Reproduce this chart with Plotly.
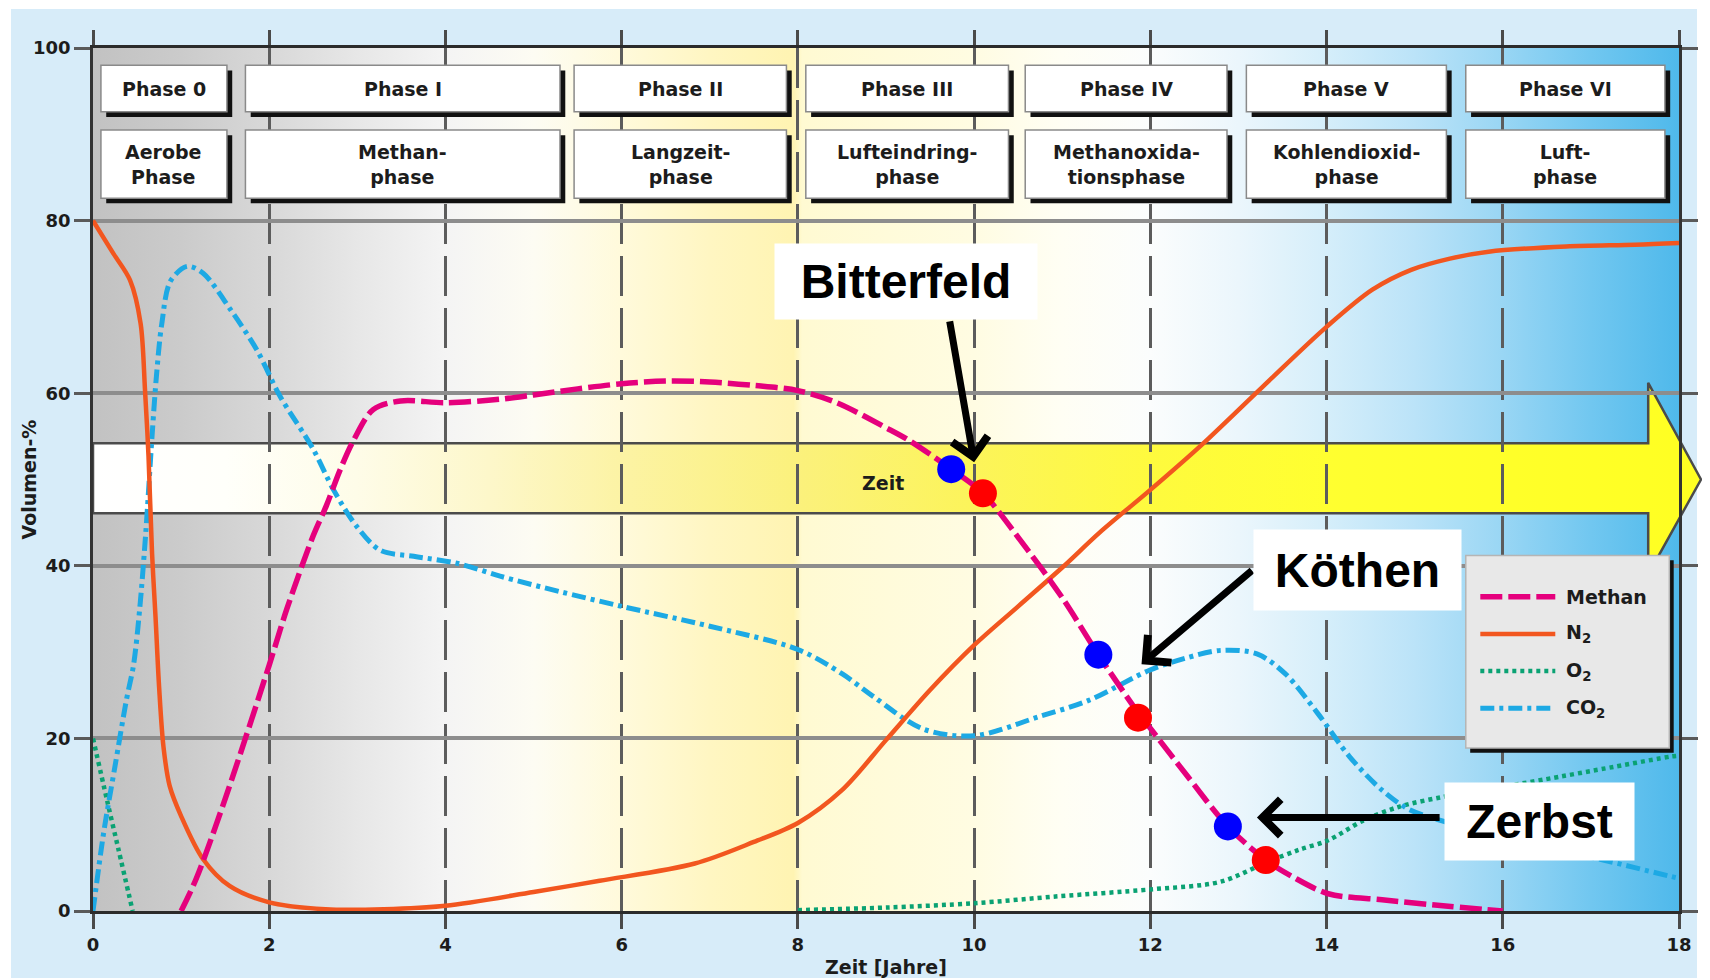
import base64
import plotly.graph_objects as go

# ------------------------------------------------------------
# Daten (Volumen-% über Zeit in Jahren)
# ------------------------------------------------------------
methan_x = [1.0, 1.17, 1.5, 2.0, 2.2, 2.5, 2.65, 2.8, 2.96, 3.18, 3.49, 4.0, 4.62, 5.0,
            5.5, 6.0, 6.5, 7.0, 7.5, 8.0, 8.44, 9.0, 9.25, 9.74, 10.1, 10.5, 11.0, 11.41,
            11.86, 11.99, 12.4, 12.88, 13.31, 13.61, 14.02, 14.63, 15.23, 16.0]
methan_y = [0, 3.7, 13, 28.5, 35, 43.5, 47, 51, 54.6, 58.1, 59.1, 58.9, 59.3, 59.8,
            60.5, 61.1, 61.4, 61.3, 60.9, 60.3, 58.9, 56.0, 54.6, 51.2, 48.4, 43.3, 36.3, 29.7,
            23.0, 21.3, 15.9, 9.8, 5.9, 4.0, 2.0, 1.3, 0.7, 0.0]

n2_x = [0, 0.23, 0.42, 0.54, 0.59, 0.63, 0.67, 0.71, 0.75, 0.8, 0.87, 1.0, 1.25, 1.55,
        2.0, 2.64, 3.3, 4.0, 5.0, 5.75, 6.83, 7.5, 8.0, 8.5, 9.0, 9.5, 10.0, 10.5, 11.0,
        11.43, 12.0, 12.57, 13.28, 13.99, 14.52, 14.96, 15.4, 15.84, 16.72, 17.5, 18.0]
n2_y = [80, 76.2, 73.1, 68.1, 60.4, 52.7, 41.5, 34, 26, 19, 14.5, 11.0, 6.0, 2.9,
        1.0, 0.2, 0.2, 0.6, 2.2, 3.5, 5.5, 8.0, 10.2, 14.0, 19.8, 25.6, 30.8, 35.3, 39.8,
        43.9, 48.8, 53.9, 60.8, 67.6, 72.0, 74.3, 75.6, 76.4, 77.0, 77.2, 77.4]

o2_x = [0, 0.16, 0.29, 0.45, None, 8.0, 9.0, 10.0, 10.95, 12.0, 12.8, 13.33, 13.69,
        14.02, 14.42, 14.83, 15.31, 16.0, 16.45, 17.26, 17.91, 18.0]
o2_y = [20, 12.8, 7.1, 0, None, 0.1, 0.4, 0.9, 1.7, 2.5, 3.4, 5.7, 7.1,
        8.2, 10.5, 12.1, 13.2, 14.4, 15.2, 16.7, 17.9, 18.0]

co2_x = [0, 0.12, 0.25, 0.38, 0.46, 0.53, 0.6, 0.67, 0.72, 0.78, 0.88, 1.07, 1.25, 1.56,
         1.86, 2.12, 2.5, 2.73, 2.99, 3.26, 3.64, 4.13, 4.62, 5.3, 6.0, 7.0, 8.0, 8.5,
         8.85, 9.42, 10.0, 10.73, 11.3, 11.99, 12.4, 12.8, 13.21, 13.53, 13.9, 14.26,
         14.63, 14.95, 15.5, 16.0, 16.5, 17.14, 17.91, 18.0]
co2_y = [0, 9, 16.8, 24.5, 28.5, 35, 44, 55, 62, 68, 73, 74.7, 73.9, 69.7,
         65, 59.7, 53.5, 48.8, 44.6, 41.8, 41.1, 40.3, 38.8, 37.0, 35.3, 33, 30.3, 27.5,
         24.9, 21.1, 20.3, 22.5, 24.4, 27.9, 29.3, 30.2, 29.8, 27.5, 22.9, 17.9,
         14.0, 11.7, 9.9, 8.5, 7.3, 5.9, 4.0, 3.8]

# Standorte (blau / rot)
orte = ["Bitterfeld", "Köthen", "Zerbst"]
blau_x = [9.74, 11.41, 12.88]
blau_y = [51.2, 29.7, 9.8]
rot_x = [10.10, 11.86, 13.31]
rot_y = [48.4, 22.4, 5.9]

# Phasen
phase_namen = ["Phase 0", "Phase I", "Phase II", "Phase III", "Phase IV", "Phase V", "Phase VI"]
phase_text = ["Aerobe<br>Phase", "Methan-<br>phase", "Langzeit-<br>phase", "Lufteindring-<br>phase",
              "Methanoxida-<br>tionsphase", "Kohlendioxid-<br>phase", "Luft-<br>phase"]
phase_start = [0.09, 1.73, 5.46, 8.09, 10.58, 13.09, 15.58]
phase_ende = [1.52, 5.30, 7.87, 10.39, 12.87, 15.36, 17.84]

x_ticks = [0, 2, 4, 6, 8, 10, 12, 14, 16, 18]
y_ticks = [0, 20, 40, 60, 80, 100]

# ------------------------------------------------------------
# Geometrie / Stil  (Seite hat 8px body-Rand -> alles um 8px verschoben)
# ------------------------------------------------------------
W, H = 1702, 972
L, T, PW, PH = 85, 40, 1586, 863
KLEIN = dict(family="DejaVu Sans", size=19, color="#1c1c1c", weight="bold")
GROSS = dict(family="Liberation Sans, Arial", size=48, color="black", weight="bold")

# Kurven: Name, Daten, Linienstil
kurven = [
    ("O<sub>2</sub>", o2_x, o2_y, dict(color="#0aa273", width=4.5, dash="4px,4px")),
    ("CO<sub>2</sub>", co2_x, co2_y, dict(color="#1da9e4", width=5, dash="14px,5px,4px,5px")),
    ("N<sub>2</sub>", n2_x, n2_y, dict(color="#f2561f", width=4.5, dash="solid")),
    ("Methan", methan_x, methan_y, dict(color="#e5007d", width=5.5, dash="22px,6px")),
]
legende_reihenfolge = ["Methan", "N<sub>2</sub>", "O<sub>2</sub>", "CO<sub>2</sub>"]


def px(x):
    return L + x / 18 * PW


def py(y):
    return T + (100 - y) / 100 * PH


# Hintergrund (Verlauf + Zeitpfeil) als SVG-Bild
bg_stops = [(0, "#c2c2c2"), (1, "#cbcbcb"), (2, "#d8d8d8"), (3, "#e7e7e7"), (4, "#f4f4f4"),
            (5, "#fdfcf3"), (6, "#fffadb"), (7, "#fff6c2"), (7.95, "#fff4b2"), (8.05, "#fffad2"),
            (10, "#fffce2"), (11, "#fffef4"), (12, "#fbfdfd"), (13, "#ebf6fc"), (14, "#d5eefa"),
            (15, "#bbe3f8"), (16, "#99d6f4"), (17, "#71c7f0"), (18, "#4fb9eb")]
band_stops = [(0, "#ffffff"), (1.5, "#fffffa"), (3, "#fefce8"), (4.5, "#fdf7ca"), (6, "#fcf3a4"),
              (8, "#fbf17c"), (10, "#fcf45a"), (12, "#fefa3e"), (14, "#ffff30"), (18.25, "#ffff22")]
pfeil = [(0, 54.2), (17.65, 54.2), (17.65, 61.2), (18.25, 50.0), (17.65, 39.0), (17.65, 46.1), (0, 46.1)]

s_bg = "".join(f'<stop offset="{x / 18:.4f}" stop-color="{c}"/>' for x, c in bg_stops)
s_band = "".join(f'<stop offset="{x / 18.25:.4f}" stop-color="{c}"/>' for x, c in band_stops)
pts = " ".join(f"{px(x):.1f},{py(y):.1f}" for x, y in pfeil)
svg = f'''<svg xmlns="http://www.w3.org/2000/svg" width="{W}" height="{H}" viewBox="0 0 {W} {H}" preserveAspectRatio="none">
<defs>
<linearGradient id="bg" gradientUnits="userSpaceOnUse" x1="{px(0)}" y1="0" x2="{px(18)}" y2="0">{s_bg}</linearGradient>
<linearGradient id="band" gradientUnits="userSpaceOnUse" x1="{px(0)}" y1="0" x2="{px(18.25)}" y2="0">{s_band}</linearGradient>
</defs>
<rect x="0" y="0" width="{W}" height="{H}" fill="#ffffff"/>
<rect x="3" y="1" width="1686" height="969" fill="#d7ecf9"/>
<rect x="{px(0)}" y="{py(100)}" width="{px(18) - px(0)}" height="{py(0) - py(100)}" fill="url(#bg)"/>
<polygon points="{pts}" fill="url(#band)" stroke="#4b4b4b" stroke-width="2.5"/>
</svg>'''
svg_uri = "data:image/svg+xml;base64," + base64.b64encode(svg.encode("utf-8")).decode("ascii")

# ------------------------------------------------------------
# Figur
# ------------------------------------------------------------
fig = go.Figure()

for name, xs, ys, stil in kurven:
    fig.add_trace(go.Scatter(x=xs, y=ys, name=name, mode="lines", showlegend=False,
                             line=dict(stil, shape="spline", smoothing=0.9)))

fig.add_trace(go.Scatter(x=blau_x, y=blau_y, mode="markers", showlegend=False, text=orte,
                         marker=dict(color="#0000ff", size=28)))
fig.add_trace(go.Scatter(x=rot_x, y=rot_y, mode="markers", showlegend=False, text=orte,
                         marker=dict(color="#ff0000", size=28)))

shapes = []
annotations = []

# Phasenkästen
for row, (y0, y1) in enumerate([(92.6, 98.0), (82.6, 90.5)]):
    for i in range(len(phase_namen)):
        x0, x1 = phase_start[i], phase_ende[i]
        shapes.append(dict(type="rect", xref="x", yref="y", x0=x0 + 0.06, x1=x1 + 0.06, y0=y0 - 0.6, y1=y1 - 0.6,
                           fillcolor="#111111", line=dict(width=0), layer="above"))
        shapes.append(dict(type="rect", xref="x", yref="y", x0=x0, x1=x1, y0=y0, y1=y1,
                           fillcolor="white", line=dict(color="#8a8a8a", width=1.5), layer="above"))
        annotations.append(dict(x=(x0 + x1) / 2, y=(y0 + y1) / 2, xref="x", yref="y", showarrow=False,
                                text=phase_namen[i] if row == 0 else phase_text[i], font=KLEIN))

# Legende (Kasten mit Schatten, Linienmuster, Text)
shapes.append(dict(type="rect", xref="x", yref="y", x0=15.63, x1=17.94, y0=18.35, y1=40.65,
                   fillcolor="#111111", line=dict(width=0), layer="above"))
shapes.append(dict(type="rect", xref="x", yref="y", x0=15.58, x1=17.89, y0=18.9, y1=41.2,
                   fillcolor="#e8e8e8", line=dict(color="#b5b5b5", width=1.5), layer="above"))
stile = {name: stil for name, _, _, stil in kurven}
for k, name in enumerate(legende_reihenfolge):
    ly = 36.4 - k * 4.3
    shapes.append(dict(type="line", xref="x", yref="y", x0=15.745, x1=16.596, y0=ly, y1=ly,
                       line=stile[name], layer="above"))
    annotations.append(dict(x=16.70, y=ly, xref="x", yref="y", text=name, showarrow=False,
                            xanchor="left", font=KLEIN))

# Pfeile zu den Standorten
pfeile = [((10.0, 52.0), (9.72, 68.5)), ((11.9, 28.6), (13.17, 39.6)), ((13.21, 10.84), (15.3, 10.84))]
for (tx, ty), (sx, sy) in pfeile:
    annotations.append(dict(x=tx, y=ty, ax=sx, ay=sy, xref="x", yref="y", axref="x", ayref="y",
                            text="", showarrow=True, arrowhead=4, arrowsize=1.0, arrowwidth=7,
                            arrowcolor="black", standoff=0))

# Standort-Beschriftungen
kaesten = [(9.227, 72.9, 262, 75), (14.35, 39.5, 207, 80), (16.42, 10.37, 189, 77)]
for name, (cx, cy, bw, bh) in zip(orte, kaesten):
    annotations.append(dict(x=cx, y=cy, xref="x", yref="y", text=name, showarrow=False, font=GROSS,
                            bgcolor="white", width=bw, height=bh, borderpad=0, align="center", valign="middle"))

annotations.append(dict(x=8.97, y=49.6, xref="x", yref="y", text="Zeit", showarrow=False, font=KLEIN))
annotations.append(dict(x=9.0, y=(py(0) - 959) / PH, xref="x", yref="paper", text="Zeit [Jahre]",
                        showarrow=False, font=KLEIN, yanchor="middle"))
annotations.append(dict(x=(20 - L) / PW, y=50, xref="paper", yref="y", text="Volumen-%", textangle=-90,
                        showarrow=False, font=KLEIN, xanchor="center"))

tickfont = dict(family="DejaVu Sans", size=18, color="#1c1c1c", weight="bold")
fig.update_layout(
    width=W, height=H,
    margin=dict(l=L, r=W - L - PW, t=T, b=H - T - PH),
    paper_bgcolor="white",
    plot_bgcolor="rgba(0,0,0,0)",
    images=[dict(source=svg_uri, xref="paper", yref="paper", x=-L / PW, y=(T + PH) / PH,
                 sizex=W / PW, sizey=H / PH, xanchor="left", yanchor="top", sizing="stretch", layer="below")],
    shapes=shapes,
    annotations=annotations,
    showlegend=False,
    xaxis=dict(range=[0, 18], tickvals=x_ticks, ticks="outside", ticklen=15, tickwidth=2.5,
               tickcolor="#4a4a4a", showline=True, linecolor="#2b2b2b", linewidth=3, mirror="ticks",
               showgrid=True, gridcolor="#5c5c5c", gridwidth=2.5, griddash="40px,12px",
               zeroline=False, tickfont=tickfont),
    yaxis=dict(range=[0, 100], tickvals=y_ticks, ticks="outside", ticklen=16, tickwidth=2.5,
               tickcolor="#5a5a5a", showline=True, linecolor="#333333", linewidth=2.5, mirror="ticks",
               showgrid=True, gridcolor="#8d8d8d", gridwidth=3.5, zeroline=False, tickfont=tickfont),
)

fig.write_html("out.html")
